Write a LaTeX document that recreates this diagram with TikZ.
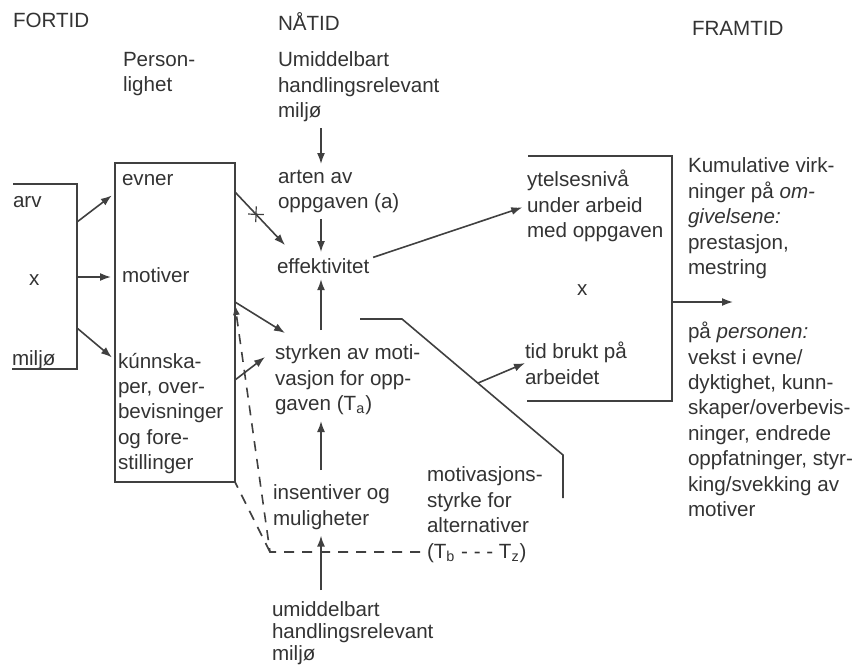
\documentclass[tikz,border=0pt]{standalone}
\usepackage{fontspec}
\setmainfont{Liberation Sans}
\usetikzlibrary{arrows.meta,shapes.misc}

\begin{document}
\begin{tikzpicture}[x=0.5pt,y=-0.5pt,
    txt/.style={anchor=base west, align=left, inner sep=0pt, outer sep=0pt, text=black!80, font=\fontsize{10.3}{12.7}\selectfont},
    blk/.style={txt, anchor=north west},
    ln/.style={draw=black!75, line width=0.8pt},
    arr/.style={ln, -{Latex[length=5.5pt,width=4pt]}},
    gap/.style={shorten <=3pt, shorten >=3pt},
    dline/.style={ln, dash pattern=on 5pt off 4pt}]
    \useasboundingbox (0,0) rectangle (856,669);

    % Define time labels
    \node[txt] (fortid) at (13,27) {FORTID};
    \node[txt] (natid) at (278,30) {NÅTID};
    \node[txt] (framtid) at (692,35) {FRAMTID};

    % Define past: heredity and environment
    \node[txt] (arv) at (13,207) {arv};
    \node[txt] (xl) at (29,285) {x};
    \node[txt] (miljo) at (12,365) {miljø};
    \draw[ln] (13,184) -| (77,369) -- (12,369);
    \coordinate (lb1) at (77,222);
    \coordinate (lb2) at (77,277);
    \coordinate (lb3) at (77,328);

    % Define personality box
    \node[blk] (person) at (123,52) {Person-\\lighet};
    \node[ln, anchor=north west, minimum width=60pt, minimum height=159.5pt, inner sep=0pt, outer sep=0pt] (pbox) at (115,163) {};
    \node[txt] (evner) at (122,185) {evner};
    \node[txt] (motiver) at (122,282) {motiver};
    \node[blk] (kunn) at (118,353) {kúnnska-\\per, over-\\bevisninger\\og fore-\\stillinger};

    % Define present column
    \node[blk] (umid) at (278,52) {Umiddelbart\\handlingsrelevant\\miljø};
    \node[blk] (arten) at (278,170) {arten av\\oppgaven (a)};
    \node[txt] (effekt) at (277,273) {effektivitet};
    \node[blk] (styrken) at (275,345) {styrken av moti-\\vasjon for opp-\\gaven (T\textsubscript{a})};
    \node[blk] (insent) at (273,485) {insentiver og\\muligheter};
    \node[blk, font=\fontsize{10.3}{11}\selectfont] (umidb) at (272,602) {umiddelbart\\handlingsrelevant\\miljø};
    \node[blk] (alt) at (427,467) {motivasjons-\\styrke for\\alternativer\\(T\textsubscript{b} - - - T\textsubscript{z})};

    % Define results
    \node[blk] (ytelse) at (527,170) {ytelsesnivå\\under arbeid\\med oppgaven};
    \node[txt] (xr) at (577,295) {x};
    \node[blk] (tid) at (525,342) {tid brukt på\\arbeidet};
    \draw[ln] (528,156) -| (672,401) -- (527,401);
    \coordinate (rbout) at (672,302);
    \coordinate (outtip) at (733,302);

    % Define future
    \node[blk] (kumul) at (688,158) {Kumulative virk-\\ninger på \textit{om-}\\\textit{givelsene:}\\prestasjon,\\mestring};
    \node[blk] (paperson) at (688,322) {på \textit{personen:}\\vekst i evne/\\dyktighet, kunn-\\skaper/overbevis-\\ninger, endrede\\oppfatninger, styr-\\king/svekking av\\motiver};

    % Draw edges with arrows
    \coordinate (ax) at (321,0);
    \draw[arr, gap] (umid.south -| ax) -- (arten.north -| ax);
    \draw[arr, gap] (arten.south -| ax) -- (effekt.north -| ax);
    \draw[arr, shorten <=7.5pt, shorten >=3pt] (styrken.north -| ax) -- (effekt.south -| ax);
    \draw[arr, shorten <=7.5pt, shorten >=3pt] (insent.north -| ax) -- (styrken.south -| ax);
    \draw[arr, shorten <=6pt, shorten >=3pt] (umidb.north -| ax) -- (insent.south -| ax);

    \draw[arr, shorten >=2pt] (lb1) -- ([yshift=-15pt]pbox.north west);
    \draw[arr, shorten >=2pt] (lb2) -- ([yshift=-57pt]pbox.north west);
    \draw[arr, shorten >=2pt] (lb3) -- ([yshift=-98.5pt]pbox.north west);

    \draw[arr] ([yshift=-14.5pt]pbox.north east) -- node[pos=.42, sloped, cross out, draw=black!75, line width=0.6pt, minimum size=5pt, inner sep=0pt] {} ([shift={(4pt,6.5pt)}]effekt.north west);
    \draw[arr] ([yshift=-69.5pt]pbox.north east) -- ([shift={(5pt,6pt)}]styrken.north west);
    \draw[arr] ([yshift=-108.5pt]pbox.north east) -- ([shift={(-5pt,-6pt)}]styrken.north west);

    \draw[arr, shorten <=2pt, shorten >=2.5pt] ([yshift=3.5pt]effekt.east) -- (ytelse.west);

    % Draw split line to time spent
    \draw[ln] (360,319) -- (402,319) -- (563,455) -- (563,498);
    \coordinate (split) at (478,383);
    \draw[arr] (split) -- (tid.west);

    \draw[arr] (rbout) -- (outtip);

    % Draw dashed feedback
    \coordinate (dcorner) at (270,552);
    \draw[dline, -{Latex[length=5pt,width=3.5pt]}, shorten <=3.5pt] (dcorner -| alt.west) -- (dcorner) -- ([yshift=-71pt]pbox.north east);
    \draw[dline] (dcorner) -- (pbox.south east);
\end{tikzpicture}
\end{document}
